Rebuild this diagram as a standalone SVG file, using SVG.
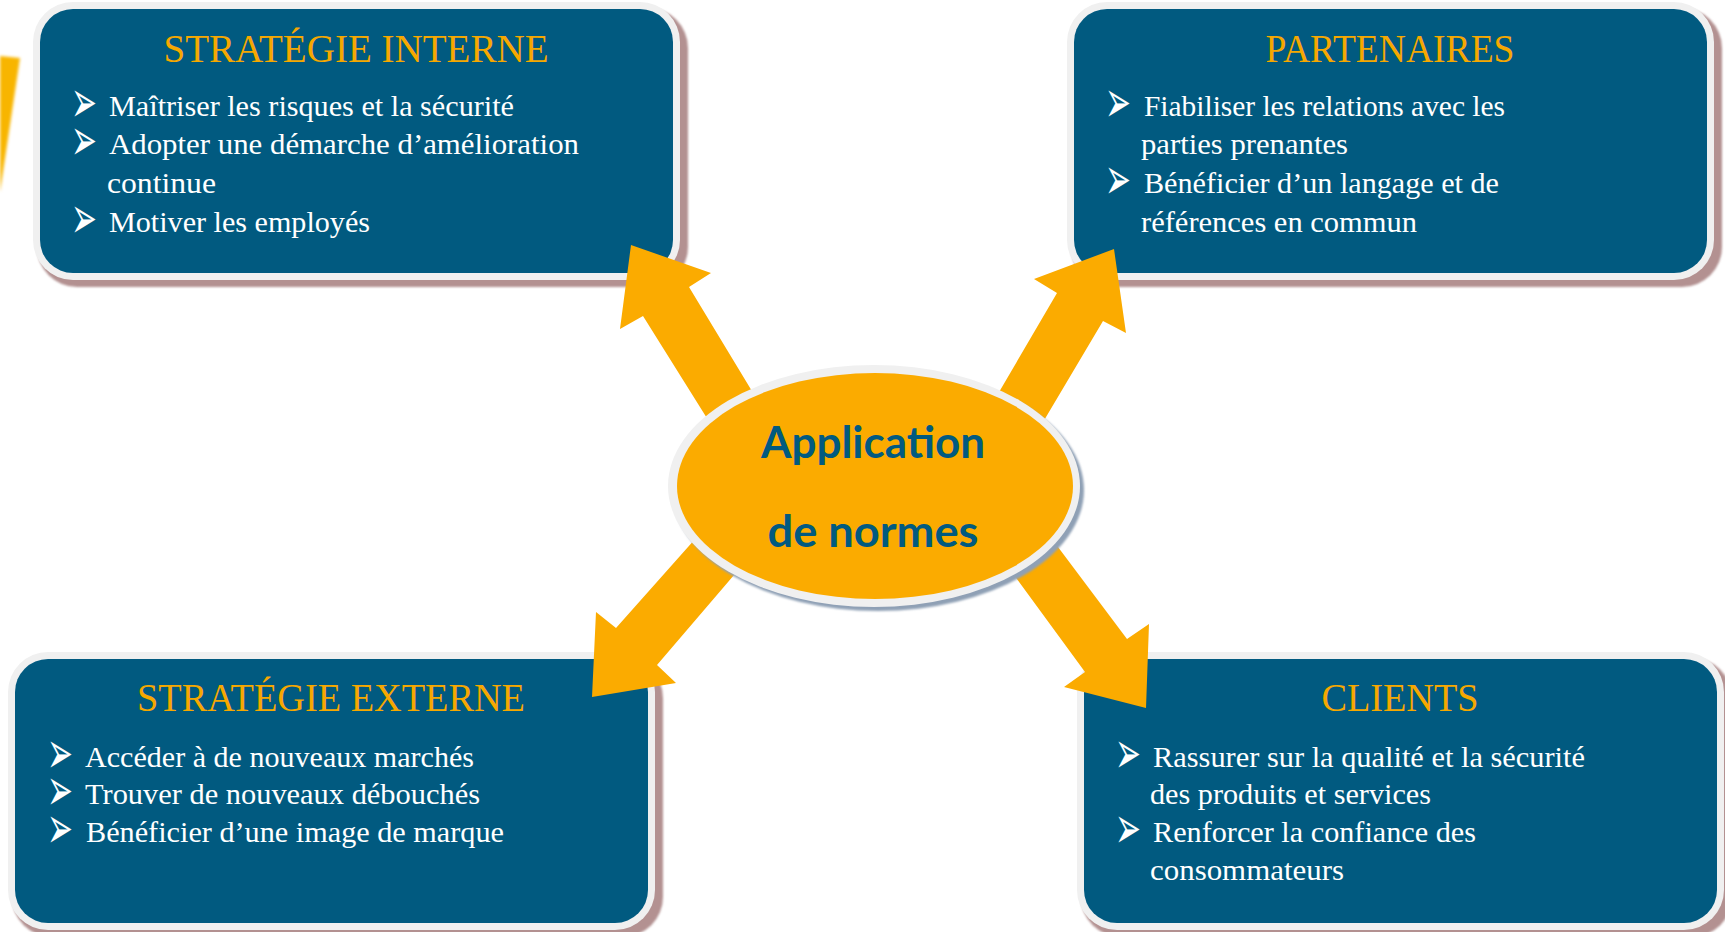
<svg xmlns="http://www.w3.org/2000/svg" width="1725" height="932" viewBox="0 0 1725 932">
  <defs>
    <filter id="soft" x="-5%" y="-5%" width="110%" height="110%">
      <feGaussianBlur stdDeviation="1.2"/>
    </filter>
    <filter id="haze" x="-50%" y="-10%" width="200%" height="120%">
      <feGaussianBlur stdDeviation="1.5"/>
    </filter>
    <style>
      .shadow { fill: #b39191; filter: url(#soft); }
      .frame { fill: #f0f0f0; }
      .panel { fill: #015a80; }
      .title { font-family: "Liberation Serif", "Times New Roman", serif; font-size: 41px; fill: #f6a800; text-anchor: middle; }
      .item { font-family: "Liberation Serif", "Times New Roman", serif; font-size: 30px; fill: #ffffff; }
      .bullet { font-family: "DejaVu Sans", sans-serif; font-size: 31px; fill: #ffffff; }
      .arrow { fill: #fbab00; }
      .hub-text { font-family: Lato, "Liberation Sans", sans-serif; font-weight: 700; font-size: 43px; fill: #015a80; text-anchor: middle; }
    </style>
  </defs>

  <rect width="1725" height="932" fill="#ffffff"/>

  <!-- partial yellow band at the left edge -->
  <polygon points="0,56 20,58 0,192" fill="#f8b500" filter="url(#haze)"/>

  <!-- Stratégie interne -->
  <g id="node-strategie-interne">
    <rect class="shadow" x="37" y="8" width="651" height="279" rx="40"/>
    <rect class="frame" x="33" y="2" width="647" height="278" rx="40"/>
    <rect class="panel" x="40" y="9" width="633" height="264" rx="33"/>
    <text class="title" x="356" y="62" textLength="385" lengthAdjust="spacingAndGlyphs">STRATÉGIE INTERNE</text>
    <text class="bullet" transform="translate(71,104) scale(1,1.9)" y="9.5">➢</text>
    <text class="item" x="109" y="116" textLength="405" lengthAdjust="spacingAndGlyphs">Maîtriser les risques et la sécurité</text>
    <text class="bullet" transform="translate(71,142) scale(1,1.9)" y="9.5">➢</text>
    <text class="item" x="109" y="154" textLength="470" lengthAdjust="spacingAndGlyphs">Adopter une démarche d’amélioration</text>
    <text class="item" x="107" y="193" textLength="109" lengthAdjust="spacingAndGlyphs">continue</text>
    <text class="bullet" transform="translate(71,220) scale(1,1.9)" y="9.5">➢</text>
    <text class="item" x="109" y="232" textLength="261" lengthAdjust="spacingAndGlyphs">Motiver les employés</text>
  </g>

  <!-- Partenaires -->
  <g id="node-partenaires">
    <rect class="shadow" x="1071" y="8" width="651" height="279" rx="40"/>
    <rect class="frame" x="1067" y="2" width="647" height="278" rx="40"/>
    <rect class="panel" x="1074" y="9" width="633" height="264" rx="33"/>
    <text class="title" x="1390" y="62" textLength="249" lengthAdjust="spacingAndGlyphs">PARTENAIRES</text>
    <text class="bullet" transform="translate(1105,104) scale(1,1.9)" y="9.5">➢</text>
    <text class="item" x="1144" y="116" textLength="361" lengthAdjust="spacingAndGlyphs">Fiabiliser les relations avec les</text>
    <text class="item" x="1141" y="154" textLength="207" lengthAdjust="spacingAndGlyphs">parties prenantes</text>
    <text class="bullet" transform="translate(1105,181) scale(1,1.9)" y="9.5">➢</text>
    <text class="item" x="1144" y="193" textLength="355" lengthAdjust="spacingAndGlyphs">Bénéficier d’un langage et de</text>
    <text class="item" x="1141" y="232" textLength="276" lengthAdjust="spacingAndGlyphs">références en commun</text>
  </g>

  <!-- Stratégie externe -->
  <g id="node-strategie-externe">
    <rect class="shadow" x="12" y="658" width="651" height="279" rx="40"/>
    <rect class="frame" x="8" y="652" width="647" height="278" rx="40"/>
    <rect class="panel" x="15" y="659" width="633" height="264" rx="33"/>
    <text class="title" x="331" y="711" textLength="388" lengthAdjust="spacingAndGlyphs">STRATÉGIE EXTERNE</text>
    <text class="bullet" transform="translate(47,755) scale(1,1.9)" y="9.5">➢</text>
    <text class="item" x="85" y="767" textLength="389" lengthAdjust="spacingAndGlyphs">Accéder à de nouveaux marchés</text>
    <text class="bullet" transform="translate(47,792) scale(1,1.9)" y="9.5">➢</text>
    <text class="item" x="85" y="804" textLength="395" lengthAdjust="spacingAndGlyphs">Trouver de nouveaux débouchés</text>
    <text class="bullet" transform="translate(47,830) scale(1,1.9)" y="9.5">➢</text>
    <text class="item" x="86" y="842" textLength="418" lengthAdjust="spacingAndGlyphs">Bénéficier d’une image de marque</text>
  </g>

  <!-- Clients -->
  <g id="node-clients">
    <rect class="shadow" x="1081" y="658" width="651" height="279" rx="40"/>
    <rect class="frame" x="1077" y="652" width="647" height="278" rx="40"/>
    <rect class="panel" x="1084" y="659" width="633" height="264" rx="33"/>
    <text class="title" x="1400" y="711" textLength="157" lengthAdjust="spacingAndGlyphs">CLIENTS</text>
    <text class="bullet" transform="translate(1115,755) scale(1,1.9)" y="9.5">➢</text>
    <text class="item" x="1153" y="767" textLength="432" lengthAdjust="spacingAndGlyphs">Rassurer sur la qualité et la sécurité</text>
    <text class="item" x="1150" y="804" textLength="281" lengthAdjust="spacingAndGlyphs">des produits et services</text>
    <text class="bullet" transform="translate(1115,830) scale(1,1.9)" y="9.5">➢</text>
    <text class="item" x="1153" y="842" textLength="323" lengthAdjust="spacingAndGlyphs">Renforcer la confiance des</text>
    <text class="item" x="1150" y="880" textLength="194" lengthAdjust="spacingAndGlyphs">consommateurs</text>
  </g>

  <!-- block arrows radiating from the hub -->
  <g id="connectors">
    <polygon class="arrow" points="631,245 711,273 689,287 770,421 725,447 643,316 620,329"/>
    <polygon class="arrow" points="1114,249 1126,333 1103,321 1030,444 985,416 1057,293 1034,279"/>
    <polygon class="arrow" points="592,697 596,612 616,628 712,520 752,554 657,665 676,683"/>
    <polygon class="arrow" points="1146,708 1149,624 1127,639 1040,523 1000,556 1085,672 1064,687"/>
  </g>

  <!-- central hub -->
  <g id="node-application">
    <ellipse cx="878" cy="490" rx="206" ry="121" fill="#8fa0b5" filter="url(#soft)"/>
    <ellipse cx="874" cy="486" rx="206" ry="121" fill="#f0f0f0"/>
    <ellipse cx="875" cy="486" rx="198" ry="113" fill="#fbab00"/>
    <text class="hub-text" x="873" y="458" textLength="224" lengthAdjust="spacingAndGlyphs">Application</text>
    <text class="hub-text" x="873" y="547" textLength="211" lengthAdjust="spacingAndGlyphs">de normes</text>
  </g>
</svg>
